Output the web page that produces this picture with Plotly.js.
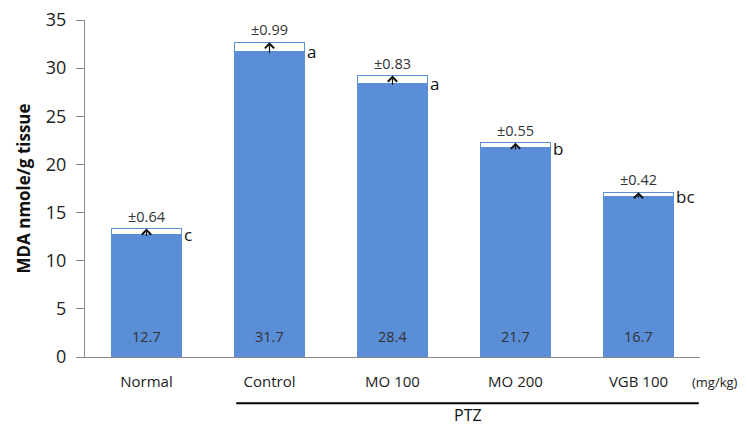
<!DOCTYPE html>
<html>
<head>
<meta charset="utf-8">
<script src="https://cdn.plot.ly/plotly-3.0.1.min.js"></script>
<style>html,body{margin:0;padding:0;background:#fff;}#chart{width:747px;height:427px;}</style>
</head>
<body>
<div id="chart"></div>
<script>
const categories = ["Normal", "Control", "MO 100", "MO 200", "VGB 100"];
const means = [12.7, 31.7, 28.4, 21.7, 16.7];
const errors = [0.64, 0.99, 0.83, 0.55, 0.42];
const errorLabels = ["±0.64", "±0.99", "±0.83", "±0.55", "±0.42"];
const letters = ["c", "a", "a", "b", "bc"];
const valueLabels = ["12.7", "31.7", "28.4", "21.7", "16.7"];
const yTicks = [0, 5, 10, 15, 20, 25, 30, 35];

const blue = "#5A8ED7";
const font = "Open Sans, Noto Sans, sans-serif";

const traces = [
  {type: "bar", x: categories, y: means, marker: {color: blue, line: {width: 0}}, hoverinfo: "skip"},
  {type: "bar", x: categories, y: errors, marker: {color: "#ffffff", line: {color: blue, width: 1.3}}, hoverinfo: "skip"}
];

const annotations = [];
categories.forEach((c, i) => {
  const top = means[i] + errors[i];
  annotations.push({x: c, y: top, xref: "x", yref: "y", ax: c, ay: means[i] - 0.3, axref: "x", ayref: "y",
    showarrow: true, arrowhead: 4, arrowsize: 1.5, arrowwidth: 1.2, arrowcolor: "#111", text: ""});
  annotations.push({x: c, y: top, xref: "x", yref: "y", text: errorLabels[i], showarrow: false,
    yanchor: "bottom", yshift: 1, font: {family: font, size: 14.5, color: "#333"}});
  annotations.push({x: i + 0.29, y: means[i], xref: "x", yref: "y", text: letters[i], showarrow: false,
    xanchor: "left", yanchor: "middle", font: {family: font, size: 17, color: "#111"}});
  annotations.push({x: c, y: 2.1, xref: "x", yref: "y", text: valueLabels[i], showarrow: false,
    yanchor: "middle", font: {family: font, size: 14.5, color: "#333"}});
});
annotations.push({x: 1.024, y: -0.074, xref: "paper", yref: "paper", text: "(mg/kg)", showarrow: false,
  xanchor: "center", yanchor: "middle", font: {family: font, size: 13, color: "#222"}});
annotations.push({x: 2.61, y: -0.172, xref: "x", yref: "paper", text: "PTZ", showarrow: false,
  xanchor: "center", yanchor: "middle", font: {family: font, size: 16, color: "#111"}});

const layout = {
  width: 747, height: 427,
  margin: {l: 85, r: 47, t: 20, b: 70},
  paper_bgcolor: "#fff", plot_bgcolor: "#fff",
  barmode: "stack", bargap: 0.43, showlegend: false,
  xaxis: {range: [-0.5, 4.5], showline: true, linecolor: "#888", linewidth: 1, ticks: "", showgrid: false,
    tickfont: {family: font, size: 15, color: "#222"}, fixedrange: true, ticklabelstandoff: 11},
  yaxis: {range: [0, 35], tickvals: yTicks, ticktext: yTicks.map(String), showline: true, linecolor: "#888", linewidth: 1,
    ticks: "outside", ticklen: 8, tickcolor: "#888", showgrid: false, zeroline: false,
    tickfont: {family: font, size: 18, color: "#222"}, ticklabelstandoff: 6,
    title: {text: "<b>MDA nmole/g tissue</b>", font: {family: font, size: 17, color: "#111"}, standoff: 10}},
  annotations: annotations,
  shapes: [{type: "line", xref: "x", yref: "paper", x0: 0.73, x1: 4.49, y0: -0.137, y1: -0.137,
    line: {color: "#000", width: 2}}]
};

Plotly.newPlot("chart", traces, layout, {displayModeBar: false, staticPlot: true});
</script>
</body>
</html>
